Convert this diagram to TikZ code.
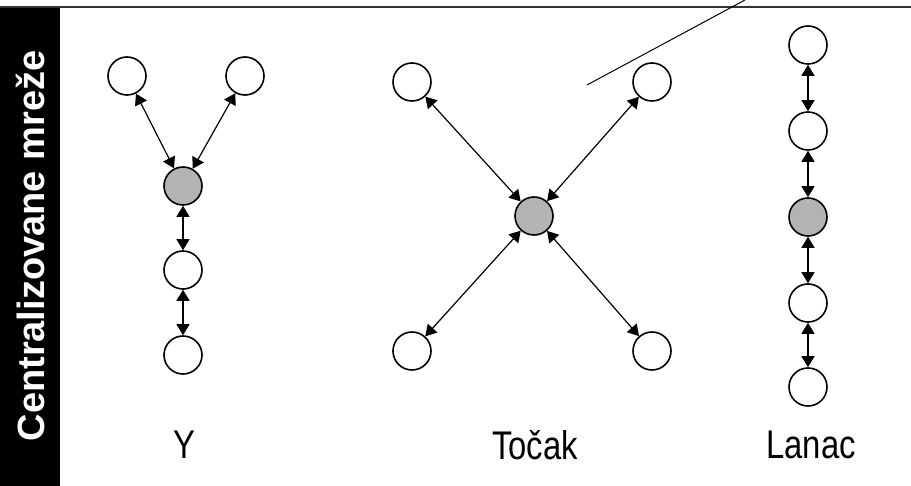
\documentclass[tikz,border=0pt]{standalone}
\usepackage{fontspec}
\setmainfont{Liberation Sans}
\usetikzlibrary{arrows.meta}
\definecolor{hubgray}{RGB}{179,179,179}
\tikzset{
  x=1pt, y=-1pt,
  peer/.style={circle, draw=black, line width=1.6pt, minimum size=38pt, inner sep=0pt, fill=white},
  hub/.style={peer, fill=hubgray},
  link/.style={line width=1.2pt, {Triangle[length=11pt,width=13pt]}-{Triangle[length=11pt,width=13pt]}},
  lbl/.style={font=\fontsize{40}{44}\selectfont, inner sep=0pt}
}
\begin{document}
\begin{tikzpicture}
\useasboundingbox (0,0) rectangle (911,486);
\fill[white] (0,0) rectangle (911,486);
% frame
\fill[black] (0,8) rectangle (60,486);
\draw[line width=1.5pt, black!80] (0,7) -- (911,7);
\node[rotate=90, text=white, font=\bfseries\fontsize{38}{42}\selectfont, inner sep=0pt] (title) at (30,246) {Centralizovane mreže};
% Y
\node[peer] (y1) at (127,76) {};
\node[peer] (y2) at (245,76) {};
\node[hub]  (y3) at (183,186) {};
\node[peer] (y4) at (183,270) {};
\node[peer] (y5) at (183,355) {};
\draw[link] (y1) -- (y3);
\draw[link] (y2) -- (y3);
\draw[link] (y3) -- (y4);
\draw[link] (y4) -- (y5);
% Tocak
\node[peer] (t1) at (412,82) {};
\node[peer] (t2) at (652,82) {};
\node[hub]  (t0) at (534,216) {};
\node[peer] (t3) at (412,351) {};
\node[peer] (t4) at (652,351) {};
\draw[link] (t1) -- (t0);
\draw[link] (t2) -- (t0);
\draw[link] (t3) -- (t0);
\draw[link] (t4) -- (t0);
% Lanac
\node[peer] (l1) at (808,45) {};
\node[peer] (l2) at (808,131) {};
\node[hub]  (l3) at (808,217) {};
\node[peer] (l4) at (808,303) {};
\node[peer] (l5) at (808,387) {};
\draw[link] (l1) -- (l2);
\draw[link] (l2) -- (l3);
\draw[link] (l3) -- (l4);
\draw[link] (l4) -- (l5);
% stray line
\coordinate (sa) at (587,85);
\coordinate (sb) at (745,0);
\draw[line width=1pt] (sa) -- (sb);
% labels
\node[lbl] (ly) at (184,445) {\scalebox{0.82}[1]{Y}};
\node[lbl] (lt) at (535,445) {\scalebox{0.82}[1]{Točak}};
\node[lbl] (ll) at (811,445) {\scalebox{0.82}[1]{Lanac}};
\end{tikzpicture}
\end{document}
